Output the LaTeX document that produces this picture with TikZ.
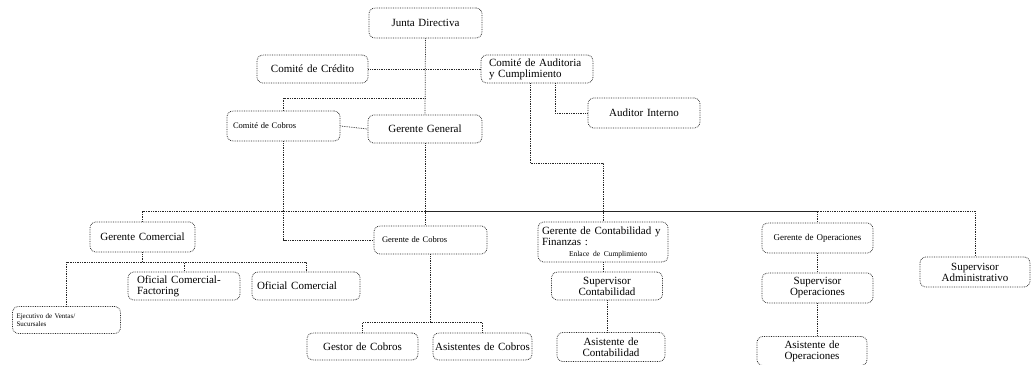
\documentclass[tikz,border=0pt]{standalone}
\usepackage{fontspec}
\setmainfont{Liberation Serif}
\newcommand\fsz[2]{\fontsize{#1}{#2}\selectfont}
\tikzset{
  ln/.style={densely dotted, line width=0.75pt, draw=black!85},
  bx/.style={draw=black!85, densely dotted, line width=0.75pt, rounded corners=6pt,
    inner ysep=1pt, font=\fsz{11}{11}, text=black},
  sm/.style={font=\fsz{8.5}{9}},
}
\begin{document}
\begin{tikzpicture}[x=1pt,y=-1pt]
\useasboundingbox[fill=white] (0,0) rectangle (1032,364);
% nodes
\node[bx, minimum width=113, minimum height=30, inner xsep=4, text width=105, align=center] (jd) at (425.5,23) {Junta Directiva};
\node[bx, minimum width=111, minimum height=28, inner xsep=4, text width=103, align=center] (cc) at (312.5,69) {Comité de Crédito};
\node[bx, minimum width=112, minimum height=28, inner xsep=8, text width=96, align=left] (ca) at (537,69) {\hyphenpenalty=10000 Comité de Auditoria\\y Cumplimiento};
\node[bx, minimum width=112, minimum height=30, inner xsep=4, text width=104, align=center] (ai) at (644,113) {Auditor Interno};
\node[bx, sm, minimum width=113, minimum height=30, inner xsep=6, text width=101, align=left] (cco) at (283.5,126) {Comité de Cobros};
\node[bx, minimum width=114, minimum height=28, inner xsep=4, text width=106, align=center] (gg) at (425,129) {Gerente General};
\node[bx, minimum width=105, minimum height=30, inner xsep=4, text width=97, align=center] (gc) at (142.5,237) {Gerente Comercial};
\node[bx, font=\fsz{7}{8}, minimum width=108, minimum height=27, inner xsep=4, text width=100, align=left] (ej) at (66.5,320) {Ejecutivo de Ventas/\\Sucursales};
\node[bx, minimum width=112, minimum height=28, inner xsep=9, text width=94, align=left] (of) at (184,286) {Oficial Comercial-\\Factoring};
\node[bx, minimum width=108, minimum height=28, inner xsep=5, text width=98, align=left] (oc) at (306,286) {Oficial Comercial};
\node[bx, sm, minimum width=113, minimum height=28, inner xsep=8, text width=97, align=left] (gcb) at (430.5,240) {Gerente de Cobros};
\node[bx, minimum width=130, minimum height=40, inner xsep=4, text width=122, align=left] (gcf) at (603,242) {Gerente de Contabilidad y\\Finanzas :\\\hspace*{27pt}{\fsz{7.5}{8}Enlace de Cumplimiento}};
\node[bx, minimum width=111, minimum height=28, inner xsep=4, text width=103, align=center] (sc) at (607,286) {Supervisor\\Contabilidad};
\node[bx, minimum width=108, minimum height=29, inner xsep=4, text width=100, align=center] (ac) at (611,347) {Asistente de\\Contabilidad};
\node[bx, minimum width=111, minimum height=27, inner xsep=4, text width=103, align=center] (gs) at (362.5,346.5) {Gestor de Cobros};
\node[bx, minimum width=99, minimum height=27, inner xsep=2, text width=95, align=center] (as) at (482.5,346.5) {Asistentes de Cobros};
\node[bx, font=\fsz{9}{9}, minimum width=111, minimum height=30, inner xsep=4, text width=103, align=center] (go) at (817.5,238) {Gerente de Operaciones};
\node[bx, minimum width=111, minimum height=30, inner xsep=4, text width=103, align=center] (so) at (817.5,288) {Supervisor\\Operaciones};
\node[bx, minimum width=110, minimum height=29, inner xsep=4, text width=102, align=center] (ao) at (812,351) {Asistente de\\Operaciones};
\node[bx, minimum width=110, minimum height=30, inner xsep=4, text width=102, align=center] (sa) at (975,272) {Supervisor\\Administrativo};
% connectors
\draw[ln] (jd.south) -- (gg.north);
\draw[ln] (cc.east) -- (ca.west);
\coordinate (t1) at (425.5,98);
\draw[ln] (t1) -| (cco.north);
\draw[ln] (cco.east) -- (gg.west);
\draw[ln] (cco.south) |- (gcb.west);
\draw[ln] (gg.south) -- (gcb.north -| gg.south);
\coordinate (bus) at (425,211);
\draw[ln] (gc.north) |- (bus) -| (sa.north);
\draw[ln] (bus) -| (go.north);
\draw[ln] (bus) -| (gcf.north);
\draw[ln] ([xshift=-7]ca.south) -- ++(0,80) -| (gcf.north);
\draw[ln] ([xshift=18]ca.south) |- (ai.west);
\draw[ln] (gc.south) -- ++(0,10) coordinate (gcj) -| (ej.north);
\draw[ln] (gcj) -| (of.north);
\draw[ln] (gcj) -| (oc.north);
\draw[ln] (gcb.south) -- ++(0,68) coordinate (gbj) -| (gs.north);
\draw[ln] (gbj) -| (as.north);
\draw[ln] (gcf.south) -- (gcf.south |- sc.north);
\draw[ln] (sc.south) -- (sc.south |- ac.north);
\draw[ln] (go.south) -- (so.north);
\draw[ln] (so.south) -- (so.south |- ao.north);
\end{tikzpicture}
\end{document}
